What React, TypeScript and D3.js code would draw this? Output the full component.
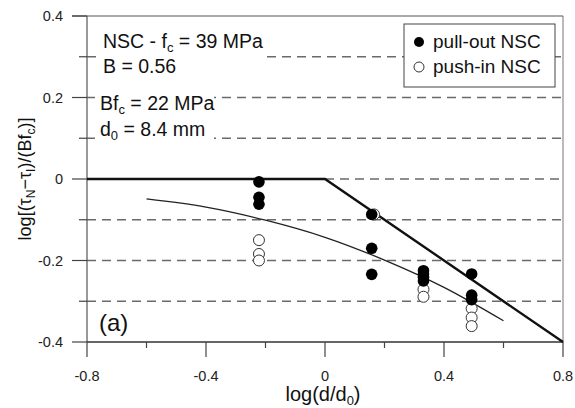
import React from "react";
import * as d3 from "d3";

const xTicksMajor = [-0.8, -0.4, 0, 0.4, 0.8];
const xTicksMinor = [-0.6, -0.2, 0.2, 0.6];
const yTicksMajor = [0.4, 0.2, 0, -0.2, -0.4];
const yTicksMinor = [0.3, 0.1, -0.1, -0.3];
const gridLevels = [0.3, 0.2, 0.1, -0.1, -0.2, -0.3];

// pull-out NSC (filled)
const pullX = [-0.222, -0.222, -0.222, 0.157, 0.157, 0.157, 0.331, 0.331, 0.331, 0.331, 0.493, 0.493, 0.493];
const pullY = [-0.007, -0.045, -0.062, -0.087, -0.170, -0.234, -0.225, -0.233, -0.241, -0.250, -0.233, -0.285, -0.296];
// push-in NSC (open)
const pushX = [-0.222, -0.222, -0.222, 0.165, 0.331, 0.331, 0.493, 0.493, 0.493];
const pushY = [-0.150, -0.184, -0.200, -0.087, -0.271, -0.289, -0.318, -0.340, -0.361];

// bilinear model
const bilinX = [-0.8, 0, 0.8];
const bilinY = [0, 0, -0.4];
// fitted curve
const curveX = [-0.6, -0.4, -0.2, 0, 0.2, 0.4, 0.6];
const curveY = [-0.049, -0.069, -0.101, -0.143, -0.199, -0.266, -0.348];

const W = 575, H = 408;
const L = 87, R = 563, T = 16, B = 342;
const FONT = "'Liberation Sans', Arial, sans-serif";

const fmt = (v: number) => (v === 0 ? "0" : d3.format(".1f")(v).replace("\u2212", "-"));

export default function App() {
  const x = d3.scaleLinear().domain([-0.8, 0.8]).range([L, R]);
  const y = d3.scaleLinear().domain([-0.4, 0.4]).range([B, T]);
  const line = d3.line<[number, number]>().x(d => x(d[0])).y(d => y(d[1]));
  const curveLine = d3.line<[number, number]>().x(d => x(d[0])).y(d => y(d[1])).curve(d3.curveMonotoneX);
  const bilin = bilinX.map((v, i) => [v, bilinY[i]] as [number, number]);
  const curve = curveX.map((v, i) => [v, curveY[i]] as [number, number]);
  const gridCol = "#6a6a6a";
  return (
    <svg width={W} height={H} style={{ position: "absolute", left: 0, top: 0, background: "#fff" }} fontFamily={FONT}>
      {/* grid lines */}
      {gridLevels.map(g => (
        <line key={g} x1={L} x2={R} y1={y(g)} y2={y(g)} stroke={gridCol} strokeWidth={1.3} strokeDasharray="9,6" />
      ))}
      <line x1={x(0)} x2={R} y1={y(0)} y2={y(0)} stroke={gridCol} strokeWidth={1.3} strokeDasharray="9,6" />
      {/* white boxes behind annotations */}
      <rect x={97} y={26} width={168} height={52} fill="#fff" />
      <rect x={95} y={88} width={119} height={56} fill="#fff" />
      {/* frame */}
      <line x1={L} x2={L} y1={T} y2={B} stroke="#555" strokeWidth={1.2} />
      <line x1={R} x2={R} y1={T} y2={B} stroke="#777" strokeWidth={1} />
      <line x1={L - 15} x2={R} y1={T} y2={T} stroke="#555" strokeWidth={1.2} />
      <line x1={L} x2={R} y1={B} y2={B} stroke="#333" strokeWidth={1.3} />
      {/* y ticks */}
      {yTicksMajor.map(v => (
        <g key={v}>
          <line x1={L - 15} x2={L} y1={y(v)} y2={y(v)} stroke="#444" strokeWidth={1.2} />
          <text x={63} y={y(v) + 5} textAnchor="end" fontSize={14.5} fill="#222">{fmt(v)}</text>
        </g>
      ))}
      {yTicksMinor.map(v => (
        <line key={v} x1={L - 8} x2={L} y1={y(v)} y2={y(v)} stroke="#444" strokeWidth={1.2} />
      ))}
      {/* x ticks */}
      {xTicksMajor.map(v => (
        <g key={v}>
          <line x1={x(v)} x2={x(v)} y1={B} y2={B + 15} stroke="#444" strokeWidth={1.2} />
          <text x={x(v)} y={381} textAnchor="middle" fontSize={14.5} fill="#222">{fmt(v)}</text>
        </g>
      ))}
      {xTicksMinor.map(v => (
        <line key={v} x1={x(v)} x2={x(v)} y1={B} y2={B + 6} stroke="#444" strokeWidth={1.2} />
      ))}
      {/* model lines */}
      <path d={line(bilin) || ""} fill="none" stroke="#111" strokeWidth={2.4} />
      <path d={curveLine(curve) || ""} fill="none" stroke="#222" strokeWidth={1.3} />
      {/* data */}
      {pushX.map((v, i) => (
        <circle key={"o" + i} cx={x(v)} cy={y(pushY[i])} r={5.5} fill="#fff" stroke="#333" strokeWidth={1} />
      ))}
      {pullX.map((v, i) => (
        <circle key={"f" + i} cx={x(v)} cy={y(pullY[i])} r={5.8} fill="#000" />
      ))}
      {/* annotations */}
      <text x={103} y={48} fontSize={19.5} fill="#111">NSC - f<tspan dy={4} fontSize={13}>c</tspan><tspan dy={-4}> = 39 MPa</tspan></text>
      <text x={103} y={73} fontSize={19.5} fill="#111">B = 0.56</text>
      <text x={100} y={110} fontSize={19.5} fill="#111">Bf<tspan dy={4} fontSize={13}>c</tspan><tspan dy={-4}> = 22 MPa</tspan></text>
      <text x={100} y={136} fontSize={19.5} fill="#111">d<tspan dy={4} fontSize={13}>0</tspan><tspan dy={-4}> = 8.4 mm</tspan></text>
      <text x={99} y={331} fontSize={24} fill="#111">(a)</text>
      {/* legend */}
      <rect x={404} y={24} width={151} height={63} fill="#fff" stroke="#444" strokeWidth={1} />
      <circle cx={419} cy={42} r={5} fill="#000" />
      <text x={433} y={48} fontSize={19} fill="#111">pull-out NSC</text>
      <circle cx={419} cy={67} r={5} fill="#fff" stroke="#333" strokeWidth={1} />
      <text x={433} y={73} fontSize={19} fill="#111">push-in NSC</text>
      {/* axis titles */}
      <text x={323} y={401} textAnchor="middle" fontSize={20} fill="#111">log(d/d<tspan dy={4} fontSize={13}>0</tspan><tspan dy={-4}>)</tspan></text>
      <text transform="translate(31,179) rotate(-90)" textAnchor="middle" fontSize={18} fill="#111">
        log[(τ<tspan dy={4} fontSize={12}>N</tspan><tspan dy={-4}>−τ</tspan><tspan dy={4} fontSize={12}>I</tspan><tspan dy={-4}>)/(Bf</tspan><tspan dy={4} fontSize={12}>c</tspan><tspan dy={-4}>)]</tspan>
      </text>
    </svg>
  );
}
